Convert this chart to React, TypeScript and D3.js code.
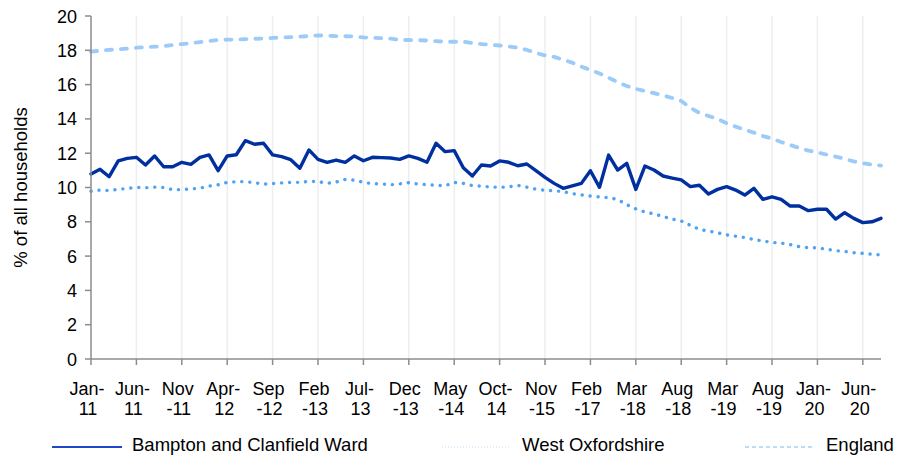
import React from 'react';
import * as d3 from 'd3';

const categories = [
  'Jan-11', 'Feb-11', 'Mar-11', 'Apr-11', 'May-11', 'Jun-11', 'Jul-11', 'Aug-11', 'Sep-11', 'Oct-11', 'Nov-11', 'Dec-11',
  'Jan-12', 'Feb-12', 'Mar-12', 'Apr-12', 'May-12', 'Jun-12', 'Jul-12', 'Aug-12', 'Sep-12', 'Oct-12', 'Nov-12', 'Dec-12',
  'Jan-13', 'Feb-13', 'Mar-13', 'Apr-13', 'May-13', 'Jun-13', 'Jul-13', 'Aug-13', 'Sep-13', 'Oct-13', 'Nov-13', 'Dec-13',
  'Jan-14', 'Feb-14', 'Mar-14', 'Apr-14', 'May-14', 'Jun-14', 'Jul-14', 'Aug-14', 'Sep-14', 'Oct-14',
  'Jan-15', 'Mar-15', 'Jun-15', 'Sep-15', 'Nov-15',
  'Feb-16', 'May-16', 'Aug-16', 'Nov-16', 'Feb-17',
  'May-17', 'Aug-17', 'Nov-17', 'Jan-18', 'Mar-18',
  'Apr-18', 'May-18', 'Jun-18', 'Jul-18', 'Aug-18',
  'Sep-18', 'Oct-18', 'Dec-18', 'Jan-19', 'Mar-19',
  'Apr-19', 'May-19', 'Jun-19', 'Jul-19', 'Aug-19',
  'Sep-19', 'Oct-19', 'Nov-19', 'Dec-19', 'Jan-20',
  'Feb-20', 'Mar-20', 'Apr-20', 'May-20', 'Jun-20',
  'Jul-20', 'Aug-20',
];

// every 5th category gets a label, wrapped the way the original shows it
const tickLines = [
  ['Jan-', '11'], ['Jun-', '11'], ['Nov', '-11'], ['Apr-', '12'], ['Sep', '-12'], ['Feb', '-13'],
  ['Jul-', '13'], ['Dec', '-13'], ['May', '-14'], ['Oct-', '14'], ['Nov', '-15'], ['Feb', '-17'],
  ['Mar', '-18'], ['Aug', '-18'], ['Mar', '-19'], ['Aug', '-19'], ['Jan-', '20'], ['Jun-', '20'],
];

const bampton = [
  10.79, 11.06, 10.63, 11.55, 11.7, 11.76, 11.31, 11.84, 11.21, 11.21,
  11.47, 11.35, 11.76, 11.9, 10.98, 11.84, 11.91, 12.73, 12.52, 12.58,
  11.9, 11.8, 11.62, 11.12, 12.19, 11.64, 11.47, 11.6, 11.47, 11.84,
  11.56, 11.76, 11.74, 11.72, 11.64, 11.84, 11.7, 11.47, 12.58, 12.09,
  12.15, 11.15, 10.67, 11.31, 11.25, 11.55, 11.47, 11.27, 11.37, 10.98,
  10.59, 10.24, 9.95, 10.09, 10.24, 10.98, 10.01, 11.89, 11.02, 11.41,
  9.89, 11.25, 11.02, 10.67, 10.55, 10.44, 10.05, 10.13, 9.62, 9.89,
  10.05, 9.85, 9.56, 9.95, 9.31, 9.46, 9.31, 8.92, 8.92, 8.65,
  8.73, 8.73, 8.16, 8.53, 8.2, 7.95, 8.0, 8.2,
];

const westOxfordshire = [
  9.78, 9.85, 9.83, 9.89, 9.95, 10.0, 9.99, 10.02, 10.0, 9.87,
  9.88, 9.92, 9.96, 10.08, 10.16, 10.3, 10.34, 10.34, 10.28, 10.2,
  10.23, 10.27, 10.3, 10.3, 10.36, 10.35, 10.24, 10.32, 10.47, 10.43,
  10.3, 10.22, 10.21, 10.16, 10.21, 10.28, 10.2, 10.17, 10.13, 10.1,
  10.3, 10.24, 10.11, 10.08, 10.03, 10.01, 10.04, 10.12, 10.02, 9.9,
  9.84, 9.81, 9.76, 9.64, 9.57, 9.5, 9.45, 9.41, 9.3, 9.0,
  8.75, 8.57, 8.46, 8.31, 8.16, 8.05, 7.8, 7.56, 7.46, 7.36,
  7.24, 7.16, 7.08, 6.97, 6.88, 6.8, 6.76, 6.67, 6.55, 6.49,
  6.48, 6.4, 6.32, 6.27, 6.2, 6.16, 6.11, 6.07,
];

const england = [
  17.92, 17.98, 18.02, 18.06, 18.1, 18.15, 18.18, 18.21, 18.25, 18.31,
  18.36, 18.42, 18.48, 18.54, 18.6, 18.62, 18.63, 18.65, 18.67, 18.69,
  18.72, 18.75, 18.77, 18.79, 18.83, 18.87, 18.85, 18.83, 18.82, 18.8,
  18.75, 18.73, 18.71, 18.68, 18.6, 18.6, 18.59, 18.57, 18.53, 18.5,
  18.5, 18.5, 18.42, 18.36, 18.33, 18.28, 18.22, 18.15, 18.02, 17.85,
  17.7, 17.62, 17.45, 17.28, 17.05, 16.85, 16.65, 16.4, 16.15, 15.92,
  15.75, 15.62, 15.5, 15.37, 15.22, 15.05, 14.65, 14.35, 14.17, 14.0,
  13.75, 13.55, 13.37, 13.2, 13.0, 12.85, 12.65, 12.48, 12.3, 12.15,
  12.05, 11.92, 11.8, 11.67, 11.52, 11.42, 11.33, 11.28,
];

const yTicks = [0, 2, 4, 6, 8, 10, 12, 14, 16, 18, 20];

const W = 897;
const H = 456;
const left = 91;
const right = 881;
const top = 16;
const bottom = 359;
const font = '"Liberation Sans", Arial, sans-serif';
const axisColour = '#8c8c8c';

const series = [
  { name: 'Bampton and Clanfield Ward', values: bampton, colour: '#0030a0', width: 3.4, dash: null, cap: 'round' },
  { name: 'West Oxfordshire', values: westOxfordshire, colour: '#4ea4f4', width: 3.4, dash: '0.1 7.9', cap: 'round' },
  { name: 'England', values: england, colour: '#9ccbf8', width: 3.8, dash: '6 9', cap: 'round' },
];

const legend = [
  { lineX: [52, 122], textX: 132, colour: '#1f46c8', width: 2.2, dash: null },
  { lineX: [442, 510], textX: 522, colour: '#c4e0fa', width: 1.2, dash: '1 2' },
  { lineX: [745, 813], textX: 826, colour: '#a8d1f8', width: 1.6, dash: '4 3' },
];

export default function App() {
  const x = d3.scalePoint<string>().domain(categories).range([left, right]);
  const y = d3.scaleLinear().domain([0, 20]).range([bottom, top]);

  const line = d3.line<number>()
    .x((_, i) => x(categories[i]) as number)
    .y(d => y(d));

  const tickIdx = tickLines.map((_, k) => k * 5);

  return (
    <div style={{ position: 'absolute', left: 0, top: 0 }}>
      <svg width={W} height={H} style={{ display: 'block', background: '#fff' }} fontFamily={font}>
        {/* vertical gridlines */}
        {tickIdx.slice(1).map(i => (
          <line key={'g' + i} x1={x(categories[i])} x2={x(categories[i])} y1={top} y2={bottom}
            stroke="#eeeeee" strokeWidth={1.5} />
        ))}

        {/* series */}
        {series.map(s => (
          <path key={s.name} d={line(s.values) || ''} fill="none" stroke={s.colour}
            strokeWidth={s.width} strokeDasharray={s.dash || undefined}
            strokeLinecap={s.cap as any} strokeLinejoin="round" />
        ))}

        {/* y axis */}
        <line x1={left} x2={left} y1={top} y2={bottom} stroke={axisColour} strokeWidth={1.5} />
        {yTicks.map(t => (
          <g key={'y' + t}>
            <line x1={left - 6} x2={left} y1={y(t)} y2={y(t)} stroke={axisColour} strokeWidth={1.5} />
            <text x={77} y={y(t) + 6.5} textAnchor="end" fontSize={18} fill="#000">{t}</text>
          </g>
        ))}
        <text transform={`translate(27,${(top + bottom) / 2}) rotate(-90)`} textAnchor="middle"
          fontSize={18.5} fill="#000">% of all households</text>

        {/* x axis */}
        <line x1={left} x2={right} y1={bottom} y2={bottom} stroke={axisColour} strokeWidth={1.5} />
        {tickIdx.map((i, k) => {
          const cx = x(categories[i]) as number;
          return (
            <g key={'x' + i}>
              <line x1={cx} x2={cx} y1={bottom} y2={bottom + 6} stroke={axisColour} strokeWidth={1.5} />
              <text x={cx - 4} y={395} textAnchor="middle" fontSize={18} fill="#000">{tickLines[k][0]}</text>
              <text x={cx - 3} y={415} textAnchor="middle" fontSize={18} fill="#000">{tickLines[k][1]}</text>
            </g>
          );
        })}

        {/* legend */}
        {legend.map((l, k) => (
          <g key={'l' + k}>
            <line x1={l.lineX[0]} x2={l.lineX[1]} y1={447} y2={447} stroke={l.colour}
              strokeWidth={l.width} strokeDasharray={l.dash || undefined} />
            <text x={l.textX} y={451} fontSize={18.5} fill="#000">{series[k].name}</text>
          </g>
        ))}
      </svg>
    </div>
  );
}
